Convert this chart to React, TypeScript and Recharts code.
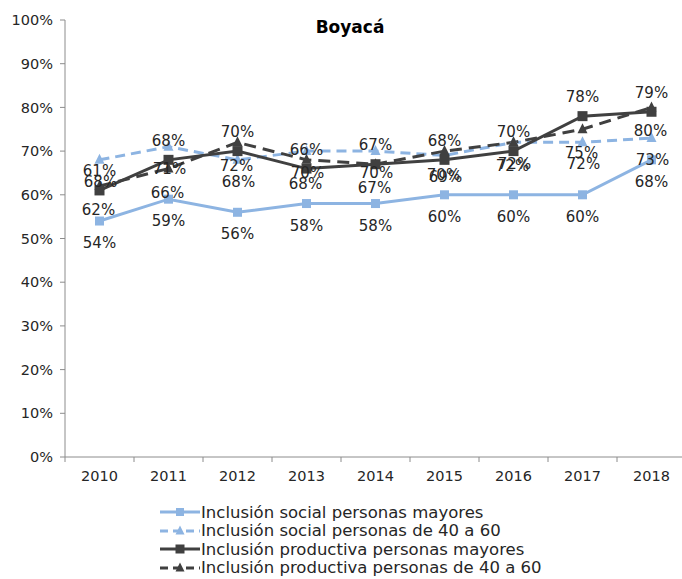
import React from 'react';
import { LineChart, Line, XAxis, YAxis, LabelList } from 'recharts';

const categories = ['2010', '2011', '2012', '2013', '2014', '2015', '2016', '2017', '2018'];
const socialMayores = [54, 59, 56, 58, 58, 60, 60, 60, 68];
const social4060 = [68, 71, 68, 70, 70, 69, 72, 72, 73];
const productivaMayores = [61, 68, 70, 66, 67, 68, 70, 78, 79];
const productiva4060 = [62, 66, 72, 68, 67, 70, 72, 75, 80];
const yTicks = [0, 10, 20, 30, 40, 50, 60, 70, 80, 90, 100];
const xBoundaries = [0, 1, 2, 3, 4, 5, 6, 7, 8, 9];

const LIGHT = '#8DB4E2';
const DARK = '#404040';
const TEXT = '#262626';
const AXIS = '#8C8C8C';
const FONT = '"DejaVu Sans", sans-serif';

const CHART_W = 690;
const CHART_H = 579;
const PLOT_LEFT = 65;
const PLOT_RIGHT = 686;
const HALF_BAND = (PLOT_RIGHT - PLOT_LEFT) / categories.length / 2;

const data = categories.map((year, i) => ({
  pos: i + 0.5,
  year,
  s1: socialMayores[i],
  s2: social4060[i],
  s3: productivaMayores[i],
  s4: productiva4060[i],
}));

type SeriesCfg = {
  key: string;
  name: string;
  color: string;
  dash?: string;
  shape: 'square' | 'triangle';
  size: number;
  labelOffset: number;
  labelDx: number;
};

const series: SeriesCfg[] = [
  { key: 's1', name: 'Inclusión social personas mayores', color: LIGHT, shape: 'square', size: 9, labelOffset: 22, labelDx: 0 },
  { key: 's2', name: 'Inclusión social personas de 40 a 60', color: LIGHT, dash: '10 6', shape: 'triangle', size: 10, labelOffset: 22, labelDx: 1 },
  { key: 's3', name: 'Inclusión productiva personas mayores', color: DARK, shape: 'square', size: 10, labelOffset: -19, labelDx: 0 },
  { key: 's4', name: 'Inclusión productiva personas de 40 a 60', color: DARK, dash: '12 7', shape: 'triangle', size: 10, labelOffset: 24, labelDx: -1 },
];

function Marker({ cx, cy, shape, size, color }: any) {
  if (cx == null || cy == null) return null;
  if (shape === 'square') {
    return <rect x={cx - size / 2} y={cy - size / 2} width={size} height={size} fill={color} />;
  }
  const h = size;
  const pts = `${cx},${cy - h / 2 - 1} ${cx - h / 2},${cy + h / 2 - 1} ${cx + h / 2},${cy + h / 2 - 1}`;
  return <polygon points={pts} fill={color} />;
}

const makeDot = (s: SeriesCfg) => (props: any) => (
  <Marker key={`${s.key}-${props.index}`} cx={props.cx} cy={props.cy} shape={s.shape} size={s.size} color={s.color} />
);

const makeLabel = (s: SeriesCfg) => (props: any) => {
  const { x, y, value, index } = props;
  if (x == null || y == null) return null;
  return (
    <text
      key={`${s.key}-l-${index}`}
      x={x + s.labelDx}
      y={y + s.labelOffset}
      textAnchor="middle"
      dominantBaseline="central"
      fontFamily={FONT}
      fontSize={15}
      fill={TEXT}
    >
      {`${value}%`}
    </text>
  );
};

const XTick = (props: any) => {
  const { x, y, payload } = props;
  const v = payload.value;
  if (v >= categories.length) return <g />;
  return (
    <g>
      <text x={x + HALF_BAND} y={y} dy="0.71em" textAnchor="middle" fontFamily={FONT} fontSize={14.5} fill={TEXT}>
        {categories[v]}
      </text>
    </g>
  );
};

function LegendIcon({ s }: { s: SeriesCfg }) {
  return (
    <svg width={42} height={18} style={{ display: 'block' }}>
      <line x1={1} y1={9} x2={41} y2={9} stroke={s.color} strokeWidth={3} strokeDasharray={s.dash ? '8 5' : undefined} />
      <Marker cx={21} cy={9} shape={s.shape} size={s.size - 1} color={s.color} />
    </svg>
  );
}

export default function App() {
  return (
    <div style={{ position: 'relative', width: 682, height: 579, overflow: 'hidden', background: '#fff' }}>
      <style>{'body{margin:0}'}</style>
      <LineChart
        width={CHART_W}
        height={CHART_H}
        data={data}
        margin={{ top: 20, right: CHART_W - PLOT_RIGHT, left: 0, bottom: 92 }}
      >
        <XAxis
          type="number"
          dataKey="pos"
          domain={[0, categories.length]}
          ticks={xBoundaries}
          interval={0}
          height={30}
          tickSize={5}
          tickMargin={9}
          tick={<XTick />}
          stroke={AXIS}
          tickLine={{ stroke: AXIS }}
          axisLine={{ stroke: AXIS }}
        />
        <YAxis
          type="number"
          domain={[0, 100]}
          ticks={yTicks}
          interval={0}
          width={PLOT_LEFT}
          tickSize={5}
          tickMargin={7}
          tickFormatter={(v: number) => `${v}%`}
          tick={{ fontFamily: FONT, fontSize: 14.5, fill: TEXT }}
          stroke={AXIS}
          tickLine={{ stroke: AXIS }}
          axisLine={{ stroke: AXIS }}
        />
        {series.map((s) => (
          <Line
            key={s.key}
            type="linear"
            dataKey={s.key}
            name={s.name}
            stroke={s.color}
            strokeWidth={3}
            strokeDasharray={s.dash}
            dot={makeDot(s)}
            activeDot={false}
            isAnimationActive={false}
          >
            <LabelList dataKey={s.key} content={makeLabel(s)} />
          </Line>
        ))}
      </LineChart>
      <div
        style={{
          position: 'absolute',
          top: 16,
          left: 280,
          width: 140,
          textAlign: 'center',
          fontFamily: FONT,
          fontWeight: 'bold',
          fontSize: 17,
          lineHeight: '22px',
          color: '#000',
        }}
      >
        Boyacá
      </div>
      <div style={{ position: 'absolute', top: 503, left: 159 }}>
        {series.map((s) => (
          <div key={s.key} style={{ display: 'flex', alignItems: 'center', height: 18.5 }}>
            <LegendIcon s={s} />
            <span style={{ fontFamily: FONT, fontSize: 16.5, color: TEXT, whiteSpace: 'nowrap' }}>{s.name}</span>
          </div>
        ))}
      </div>
    </div>
  );
}
